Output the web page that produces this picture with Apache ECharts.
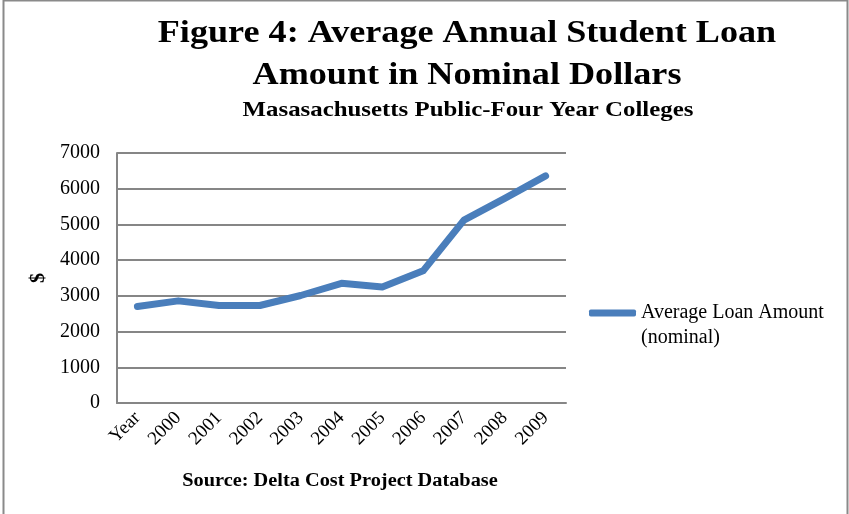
<!DOCTYPE html>
<html>
<head>
<meta charset="utf-8">
<script src="https://cdn.jsdelivr.net/npm/echarts@6/dist/echarts.min.js"></script>
<style>
  html, body { margin: 0; padding: 0; background: #fff; }
  #chart { width: 849px; height: 514px; }
</style>
</head>
<body>
<div id="chart"></div>
<script>
const categories = ['Year', '2000', '2001', '2002', '2003', '2004', '2005', '2006', '2007', '2008', '2009']
const loanAmounts = [2700, 2860, 2730, 2730, 3010, 3350, 3250, 3700, 5120, 5730, 6360]
const seriesName = 'Average Loan Amount'

const serif = '"Liberation Serif", "Times New Roman", serif'
const chart = echarts.init(document.getElementById('chart'))

// the source picture is a bit stretched sideways, so the text is widened to match
const wideText = (text, x, y, size, bold) => ({
  type: 'text',
  x, y,
  scaleX: 1.13,
  silent: true,
  style: {
    text,
    x: 0, y: 0,
    align: 'center',
    verticalAlign: 'middle',
    font: `${bold ? 'bold ' : ''}${size}px ${serif}`,
    fill: '#000',
  },
})

chart.setOption({
  animation: false,
  backgroundColor: '#fff',
  graphic: [
    {
      type: 'rect',
      shape: { x: 3.5, y: 0.5, width: 844, height: 530 },
      style: { fill: 'none', stroke: '#8a8a8a', lineWidth: 2 },
      silent: true,
    },
    wideText('Figure 4: Average Annual Student Loan', 467, 34, 32, true),
    wideText('Amount in Nominal Dollars', 467, 76, 32, true),
    wideText('Masasachusetts Public-Four Year Colleges', 468, 110, 22, true),
    wideText('Source: Delta Cost Project Database', 340, 481, 18, true),
    {
      type: 'text',
      left: 641, top: 328,
      silent: true,
      style: { text: '(nominal)', font: `20px ${serif}`, fill: '#000' },
    },
  ],
  legend: {
    left: 589, top: 303,
    padding: 0,
    itemWidth: 47, itemHeight: 7,
    icon: 'roundRect',
    textStyle: { fontFamily: serif, fontSize: 20, color: '#000' },
    data: [seriesName],
  },
  grid: { left: 117, right: 283, top: 153, bottom: 111 },
  xAxis: {
    type: 'category',
    data: categories,
    boundaryGap: true,
    axisLine: { lineStyle: { color: '#868686', width: 2 } },
    axisTick: { show: false },
    axisLabel: { rotate: 45, interval: 0, margin: 12, fontFamily: serif, fontSize: 19, color: '#000' },
  },
  yAxis: {
    type: 'value',
    min: 0, max: 7000, interval: 1000,
    name: '$',
    nameLocation: 'middle',
    nameGap: 60,
    nameTextStyle: { fontFamily: serif, fontWeight: 'bold', fontSize: 20, color: '#000' },
    axisLine: { show: true, lineStyle: { color: '#868686', width: 2 } },
    axisTick: { show: false },
    splitLine: { lineStyle: { color: '#868686', width: 2 } },
    axisLabel: { margin: 17, fontFamily: serif, fontSize: 20, color: '#000', formatter: (v) => String(v) },
  },
  series: [
    {
      name: seriesName,
      type: 'line',
      data: loanAmounts,
      symbol: 'none',
      itemStyle: { color: '#4a7ebb' },
      lineStyle: { color: '#4a7ebb', width: 7, cap: 'round', join: 'round' },
    },
  ],
})
</script>
</body>
</html>
